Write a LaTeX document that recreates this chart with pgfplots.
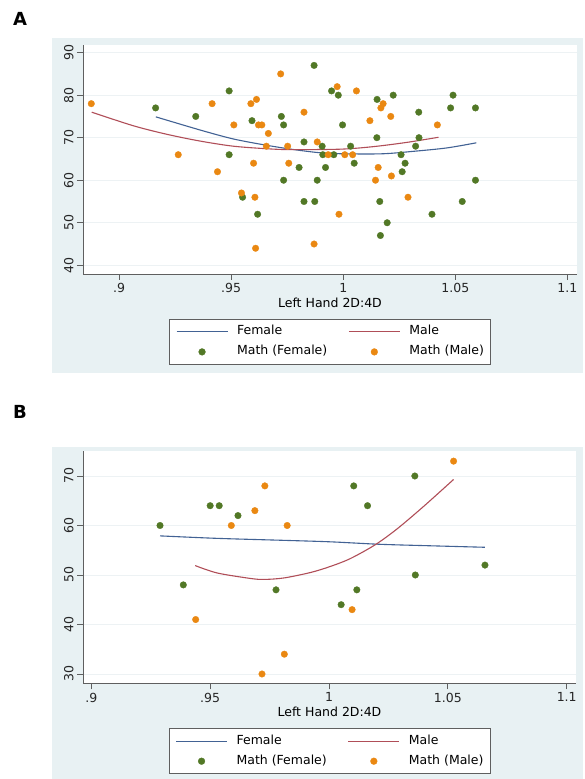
\documentclass[border=0pt]{standalone}
\usepackage{fontspec}
\setmainfont{DejaVu Sans}
\usepackage{pgfplots}
\pgfplotsset{compat=1.18}

\definecolor{bgblue}{RGB}{232,241,243}
\definecolor{gridc}{RGB}{237,242,244}
\definecolor{axisc}{RGB}{95,95,95}
\definecolor{fgreen}{RGB}{82,120,38}
\definecolor{dorange}{RGB}{234,136,18}
\definecolor{navyl}{RGB}{66,98,148}
\definecolor{maroonl}{RGB}{176,78,88}

\newcommand{\lblfont}{\fontsize{12.5}{14}\selectfont}

\pgfplotsset{
  stata/.style={
    scale only axis,
    axis background/.style={fill=white},
    axis x line*=bottom,
    axis y line*=left,
    axis line style={axisc, line width=0.9pt},
    every tick/.style={axisc, line width=0.9pt},
    tick align=outside,
    major tick length=6pt,
    ymajorgrids,
    major grid style={gridc, line width=0.8pt},
    xtick={0.9,0.95,1,1.05,1.1},
    xticklabels={.9,.95,1,1.05,1.1},
    tick label style={font=\lblfont, text=black!85},
    yticklabel style={rotate=90, anchor=south},
    /pgf/number format/assume math mode=true,
    xlabel={Left Hand 2D:4D},
    xlabel style={font=\lblfont, at={(axis description cs:0.5,0)}, anchor=center, yshift=-29pt},
    legend columns=2,
    legend cell align=left,
    legend style={
      at={(axis description cs:0.5,0)}, anchor=north, yshift=-45pt,
      draw=axisc, line width=0.8pt, fill=white, font=\lblfont,
      inner xsep=6.5pt, inner ysep=6.5pt, row sep=8pt,
      nodes={inner sep=0pt, text height=9pt, text depth=3pt},
      /tikz/every odd column/.append style={column sep=9pt},
      /tikz/every even column/.append style={column sep=21pt},
    },
  },
  fitline/.style={line width=1.1pt, no marks, smooth,
    legend image code/.code={\draw[##1] (0pt,0pt) -- (51pt,0pt);}},
  dots/.style={only marks, mark=*, mark size=3.3pt,
    mark options={line width=0.3pt},
    legend image code/.code={\path[draw=none] (0pt,0pt) -- (51pt,0pt);
      \path[##1, draw=none] plot[mark=*, mark size=3.4pt] coordinates {(25.5pt,0pt)};}},
}

\begin{document}
\begin{tikzpicture}
\useasboundingbox (0pt,0pt) rectangle (584pt,779pt);
\fill[white] (0pt,0pt) rectangle (584pt,779pt);
\fill[bgblue] (52pt,406pt) rectangle (583pt,741pt);
\fill[bgblue] (52pt,0pt) rectangle (583pt,332pt);
\node[font=\fontsize{18}{20}\selectfont\bfseries] at (20pt,760pt) {A};
\node[font=\fontsize{18}{20}\selectfont\bfseries] at (20pt,367pt) {B};

% ---------- A ----------
\begin{axis}[stata,
  at={(83pt,505pt)}, anchor=south west,
  width=494pt, height=229pt,
  xmin=0.8839, xmax=1.1043, ymin=37.95, ymax=91.8,
  ytick={40,50,60,70,80,90},
]
\addplot[fitline, navyl] coordinates {
(0.9164,74.9) (0.9362,71.8) (0.951,69.7) (0.966,68.2) (0.9808,67.0)
(0.9942,66.3) (1.0165,66.2) (1.0314,66.8) (1.0463,67.6) (1.0594,68.8)
};
\addlegendentry{Female}
\addplot[fitline, maroonl] coordinates {
(0.8878,76.0) (0.9064,72.8) (0.9213,70.8) (0.9362,69.2) (0.951,68.0)
(0.966,67.4) (0.9763,67.2) (0.9987,67.3) (1.0135,67.9) (1.0284,68.9) (1.0425,70.1)
};
\addlegendentry{Male}
\addplot[dots, fgreen] coordinates {
(0.9163,77) (0.9342,75) (0.9491,81) (0.9491,66) (0.9551,56) (0.9593,74)
(0.9618,52) (0.9724,75) (0.9734,73) (0.9734,60) (0.9803,63) (0.9825,69)
(0.9825,55) (0.987,87) (0.9873,55) (0.9884,60) (0.9906,68) (0.9909,66)
(0.9921,63) (0.9948,81) (0.9958,66) (0.9978,80) (1.0151,79) (1.0223,80)
(1.049,80) (1.0479,77) (1.059,77) (1.0337,76) (0.9997,73) (1.015,70)
(1.0338,70) (1.0033,68) (1.0323,68) (1.0258,66) (1.0049,64) (1.0276,64)
(1.0263,62) (1.059,60) (1.0163,55) (1.0531,55) (1.0396,52) (1.0196,50)
(1.0166,47)
};
\addlegendentry{Math (Female)}
\addplot[dots, dorange] coordinates {
(0.8876,78) (0.9415,78) (0.9264,66) (0.9439,62) (0.9512,73) (0.9588,78)
(0.9613,79) (0.9721,85) (0.9622,73) (0.9637,73) (0.9666,71) (0.96,64)
(0.9546,57) (0.9606,56) (0.9609,44) (0.9657,68) (0.9752,68) (0.9757,64)
(0.9825,76) (0.9884,69) (0.987,45) (0.9933,66) (0.9973,82) (1.0059,81)
(1.0178,78) (1.0168,77) (1.0212,75) (1.0119,74) (1.042,73) (1.0007,66)
(1.0042,66) (1.0156,63) (1.0144,60) (1.0215,61) (1.0289,56) (0.9981,52)
};
\addlegendentry{Math (Male)}
\end{axis}

% ---------- B ----------
\begin{axis}[stata,
  at={(83pt,95.7pt)}, anchor=south west,
  width=493pt, height=232.3pt,
  xmin=0.8965, xmax=1.1039, ymin=28.12, ymax=75.05,
  ytick={30,40,50,60,70},
]
\addplot[fitline, navyl] coordinates {
(0.9289,57.9) (0.953,57.4) (0.981,57.0) (1.0006,56.7) (1.0215,56.2)
(1.0427,55.9) (1.0656,55.6)
};
\addlegendentry{Female}
\addplot[fitline, maroonl] coordinates {
(0.9437,51.9) (0.953,50.4) (0.967,49.3) (0.9726,49.1) (0.981,49.4)
(0.9922,50.5) (1.0004,51.7) (1.0089,53.3) (1.0194,56.1) (1.0286,59.3)
(1.0399,63.9) (1.0524,69.3)
};
\addlegendentry{Male}
\addplot[dots, fgreen] coordinates {
(0.9289,60) (0.95,64) (0.9538,64) (0.9617,62) (0.9387,48) (0.9777,47)
(1.0104,68) (1.0162,64) (1.0361,70) (1.0363,50) (1.0656,52) (1.0117,47)
(1.0051,44)
};
\addlegendentry{Math (Female)}
\addplot[dots, dorange] coordinates {
(0.973,68) (0.9688,63) (0.9589,60) (0.9824,60) (0.9439,41) (0.9812,34)
(0.9718,30) (1.0524,73) (1.0097,43)
};
\addlegendentry{Math (Male)}
\end{axis}
\end{tikzpicture}
\end{document}
